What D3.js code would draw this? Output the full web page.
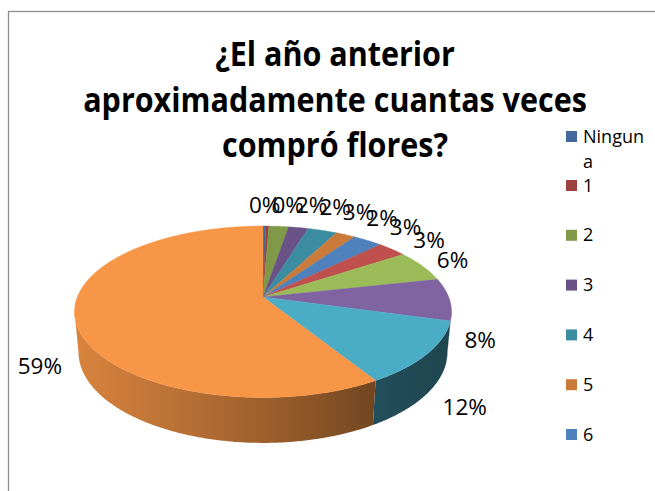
<!DOCTYPE html>
<html>
<head>
<meta charset="utf-8">
<script src="https://cdn.jsdelivr.net/npm/d3@7/dist/d3.min.js"></script>
<style>
  html, body { margin: 0; padding: 0; background: #ffffff; }
  svg { display: block; }
</style>
</head>
<body>
<script>
// ---------------- data ----------------
const categories = ["Ninguna", "1", "2", "3", "4", "5", "6", "7", "8", "9", "10", "Más de 10"];
const values = [0.3, 0.3, 2, 2, 3, 2, 3, 3, 6, 8, 12, 59];
const titleLines = ["¿El año anterior", "aproximadamente cuantas veces", "compró flores?"];
const legendShown = 7; // the legend box only has room for the first seven entries
const accentColors = ["#4F81BD", "#C0504D", "#9BBB59", "#8064A2", "#4BACC6", "#F79646"];

// ---------------- setup ----------------
const W = 655, H = 491;
const FONT = "'Open Sans', 'Noto Sans', sans-serif";
const svg = d3.select("body").append("svg").attr("width", W).attr("height", H);
const defs = svg.append("defs");

// frame (continues past the window, as in the reference)
svg.append("rect").attr("x", 8.5).attr("y", 11.5).attr("width", 700).attr("height", 600)
  .attr("fill", "#fff").attr("stroke", "#8e8e8e").attr("stroke-width", 1.3);

// colours: first cycle darker shade, second cycle the plain accents
function shade(hex, k) { const c = d3.rgb(hex); return d3.rgb(c.r * k, c.g * k, c.b * k); }
const colorOf = i => i < 6 ? shade(accentColors[i % 6], 0.82) : d3.rgb(accentColors[i % 6]);

// ---------------- 3D perspective projection ----------------
const P = { cx: 263, cy: 297, f: 963.7, D: 5.19, c: 0.894, s: 0.448, T: 0.245 };
function proj(r, a, h) {
  const X = r * Math.sin(a), Z = -r * Math.cos(a);
  const depth = P.D - Z * P.c - h * P.s;
  return [P.cx + P.f * X / depth, P.cy + P.f * (Z * P.s - h * P.c) / depth];
}
function arcPts(a0, a1, r, h) {
  const n = Math.max(2, Math.ceil(Math.abs(a1 - a0) / (Math.PI / 360)));
  return d3.range(n + 1).map(k => proj(r, a0 + (a1 - a0) * k / n, h));
}
const line = d3.line();

const pie = d3.pie().sort(null).value(d => d);
const arcs = pie(values);
const total = d3.sum(values);

// visible range of the side wall (tangent angles)
const aT = Math.acos(-P.c / P.D);
const visLo = aT, visHi = 2 * Math.PI - aT;

// side gradients (screen-horizontal lighting)
const xL = P.cx - 190, xR = P.cx + 190;
arcs.forEach((d, i) => {
  const base = colorOf(i);
  const g = defs.append("linearGradient").attr("id", "side" + i)
    .attr("gradientUnits", "userSpaceOnUse")
    .attr("x1", xL).attr("x2", xR).attr("y1", 0).attr("y2", 0);
  [[0, 0.88], [0.3, 0.74], [0.5, 0.64], [0.82, 0.45], [1, 0.40]].forEach(([o, k]) => {
    g.append("stop").attr("offset", o).attr("stop-color", shade(base.formatHex(), k));
  });
});

const gPie = svg.append("g");
// sides
arcs.forEach((d, i) => {
  const a0 = Math.max(d.startAngle, visLo), a1 = Math.min(d.endAngle, visHi);
  if (a1 <= a0) return;
  const top = arcPts(a0, a1, 1, 0);
  const bot = arcPts(a0, a1, 1, -P.T).reverse();
  gPie.append("path").attr("d", line(top.concat(bot)) + "Z")
    .attr("fill", `url(#side${i})`);
});
// top faces
arcs.forEach((d, i) => {
  const pts = [proj(0, 0, 0)].concat(arcPts(d.startAngle, d.endAngle, 1, 0));
  gPie.append("path").attr("d", line(pts) + "Z")
    .attr("fill", colorOf(i).formatHex())
    .attr("stroke", colorOf(i).formatHex()).attr("stroke-width", 0.4);
});

// ---------------- data labels ----------------
const LFS = 22.5, capH = 0.714 * LFS;
const gLab = svg.append("g").attr("font-family", FONT).attr("font-size", LFS).attr("fill", "#000");
const labels = arcs.map((d, i) => {
  const a = (d.startAngle + d.endAngle) / 2;
  const h = Math.cos(a) < 0 ? -P.T : 0;
  const [ax, ay] = proj(1.07, a, h);
  const txt = Math.round(d.value / total * 100) + "%";
  const t = gLab.append("text").text(txt);
  const w = t.node().getComputedTextLength();
  const sa = Math.sin(a), ca = Math.cos(a);
  let left;
  if (sa > 0.3) left = ax + (ca < 0 ? 6 : 4);
  else if (sa < -0.3) left = ax - 4 - w;
  else left = ax + sa * w / 2 - w / 2;
  const extra = 8 * Math.max(0, Math.min(1, (ca - 0.6) / 0.4));
  const cy = ay - ca * (capH / 2 + 1) - extra;
  return { t, w, left, cy, top: ca > 0.5 };
});
// simple collision push for crowded labels at the back of the pie
for (let i = 1; i < labels.length; i++) {
  const p = labels[i - 1], q = labels[i];
  if (p.top && q.top && q.left < p.left + p.w - 8) q.left = p.left + p.w - 8;
}
labels.forEach(l => l.t.attr("x", l.left).attr("y", l.cy + capH / 2));

// ---------------- title ----------------
const TFS = 33.5;
const gTitle = svg.append("g").attr("font-family", FONT).attr("font-weight", "bold")
  .attr("text-anchor", "middle").attr("fill", "#000");
const probe = gTitle.append("text").attr("font-size", TFS).text(titleLines[1]);
const kx = 504 / probe.node().getComputedTextLength();
probe.remove();
const titleBase = [66, 111.5, 157];
titleLines.forEach((s, k) => {
  gTitle.append("text").attr("transform", `translate(335,${titleBase[k]}) scale(${kx},1)`)
    .attr("font-size", TFS).text(s);
});

// ---------------- legend ----------------
const LGFS = 18, legX = 566, legTextX = 583, legMaxW = 66, lineH = 25;
const gLeg = svg.append("g").attr("font-family", FONT).attr("font-size", LGFS).attr("fill", "#000");
function wrapChars(str) {
  const tmp = gLeg.append("text");
  const out = []; let cur = "";
  for (const ch of str) {
    tmp.text(cur + ch);
    if (cur && tmp.node().getComputedTextLength() > legMaxW) { out.push(cur); cur = ch; }
    else cur += ch;
  }
  out.push(cur); tmp.remove();
  return out;
}
let yC = 136.5;
categories.slice(0, legendShown).forEach((name, i) => {
  const linesTxt = wrapChars(name);
  gLeg.append("rect").attr("x", legX).attr("y", yC - 5.5).attr("width", 11).attr("height", 11)
    .attr("fill", colorOf(i).formatHex());
  const t = gLeg.append("text").attr("x", legTextX).attr("y", yC + 6);
  linesTxt.forEach((s, k) => t.append("tspan").attr("x", legTextX).attr("dy", k ? lineH : 0).text(s));
  yC += linesTxt.length > 1 ? (linesTxt.length - 1) * lineH + 24 : 49.8;
});
</script>
</body>
</html>
